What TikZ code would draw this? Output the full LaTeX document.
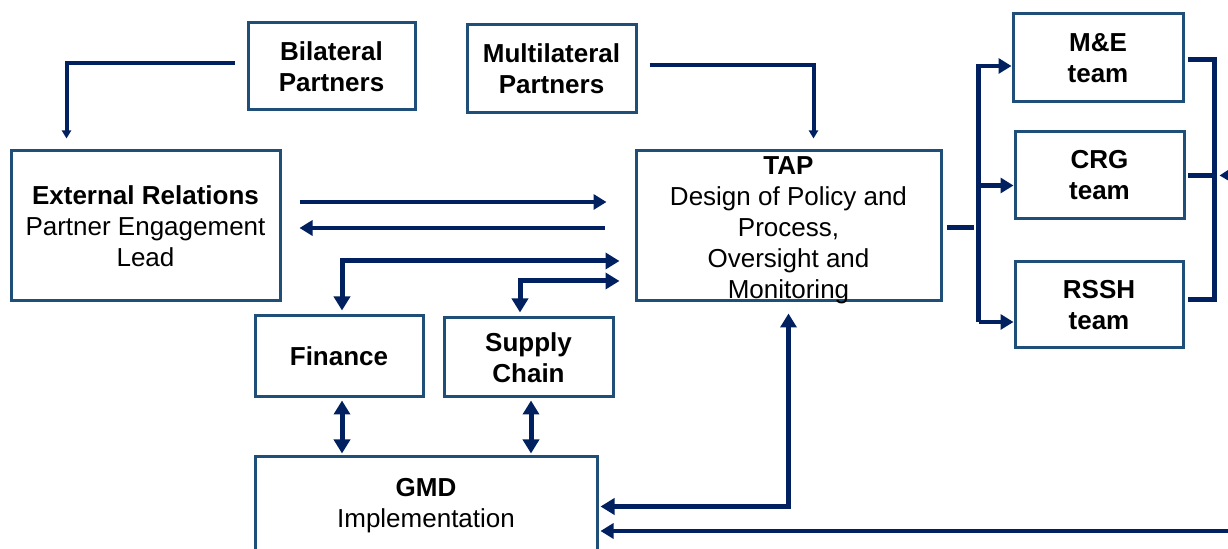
\documentclass[tikz,border=0pt]{standalone}
\usepackage{fontspec}
\setmainfont{Liberation Sans}
\usepackage{tikz}
\usetikzlibrary{arrows.meta,calc,positioning}
\definecolor{boxblue}{RGB}{31,78,121}
\definecolor{navy}{RGB}{0,32,96}

\begin{document}
\begin{tikzpicture}[x=0.5pt, y=-0.5pt, line join=miter,
  box/.style={rectangle, draw=boxblue, line width=1.5pt, inner sep=0pt, align=center,
    font=\fontsize{13}{15.5}\selectfont},
  txt/.style={align=center, inner sep=0pt, font=\fontsize{13}{15.5}\selectfont},
  flow/.style={draw=navy, line width=2.25pt, -{Triangle[length=6.5pt,width=7.5pt]}},
  both/.style={draw=navy, line width=2.5pt, {Triangle[length=7pt,width=8pt]}-{Triangle[length=7pt,width=8pt]}},
  thin/.style={draw=navy, line width=2pt, -{Triangle[length=4pt,width=4.5pt]}},
  bar/.style={draw=navy, line width=2.5pt}]
\clip (0,0) rectangle (1228,549);
\node[box, minimum width=83.5pt, minimum height=43.5pt] (bilat) at (331.5,66.5) {\textbf{Bilateral}\\\textbf{Partners}};
\node[box, minimum width=84.5pt, minimum height=44pt] (multi) at (551.5,69) {\textbf{Multilateral}\\\textbf{Partners}};
\node[box, minimum width=134.5pt, minimum height=75pt] (extrel) at (145.5,226) {\textbf{External Relations}\\Partner Engagement\\Lead};
\node[box, minimum width=152.5pt, minimum height=75pt] (tap) at (788.5,226) {};
\node[txt] (taptext) at (788.5,230) {\textbf{TAP}\\Design of Policy and\\Process,\\Oversight and\\Monitoring};
\node[box, minimum width=85pt, minimum height=44pt] (me) at (1098,58) {\textbf{M\&E}\\\textbf{team}};
\node[box, minimum width=84.5pt, minimum height=43.5pt] (crg) at (1099.5,175.5) {\textbf{CRG}\\\textbf{team}};
\node[box, minimum width=84pt, minimum height=43pt] (rssh) at (1099,305) {\textbf{RSSH}\\\textbf{team}};
\node[box, minimum width=84pt, minimum height=40.5pt] (fin) at (339,356.5) {\textbf{Finance}};
\node[box, minimum width=84.5pt, minimum height=39.5pt] (supply) at (528.5,357.5) {\textbf{Supply}\\\textbf{Chain}};
\node[box, minimum width=171pt, minimum height=66.5pt] (gmd) at (426,523.5) {};
\node[txt] (gmdtext) at (426,506) {\textbf{GMD}\\Implementation};
\coordinate (offgmd) at (1240,531);
\coordinate (offcrg) at (1240,175);

\draw[thin] ($(bilat.west)+(-12,-3.5)$) -| ($(extrel.north west)+(57,-11)$);
\draw[thin] ($(multi.east)+(12,-4)$) -| ($(tap.north west)+(179,-11)$);
\draw[flow] ($(extrel.east)+(18,-24)$) -- ($(tap.west)+(-28,-24)$);
\draw[flow] ($(tap.west)+(-30,2)$) -- ($(extrel.east)+(18,2)$);
\draw[both] ($(fin.north)+(3,-4)$) |- ($(tap.west)+(-15,35)$);
\draw[both] ($(supply.north)+(-8.5,-4)$) |- ($(tap.west)+(-15,55)$);
\draw[both] ($(fin.south)+(3,2)$) -- ($(fin.south |- gmd.north)+(3,-2)$);
\draw[both] ($(supply.south)+(2.5,2)$) -- ($(supply.south |- gmd.north)+(2.5,-2)$);
\draw[both] ($(gmd.east)+(2,-17)$) -| ($(tap.south)+(0,11)$);
\draw[flow] (offgmd) -- ($(gmd.east)+(2,7.5)$);
\draw[bar] ($(tap.east)+(4,2)$) -- ($(tap.east)+(31,2)$);
\draw[flow] ($(rssh.west)+(-35,17)$) |- ($(me.west)+(0,8)$);
\draw[flow] ($(rssh.west)+(-35,17)$) -- ($(rssh.west)+(0,17)$);
\draw[flow] ($(crg.west)+(-35,10)$) -- ($(crg.west)+(0,10)$);
\draw[bar] ($(me.east)+(3,2)$) -| ($(rssh.east)+(30,-5)$) -- ($(rssh.east)+(3,-5)$);
\draw[bar] ($(crg.east)+(2,0)$) -- ($(crg.east)+(30,0)$);
\draw[flow] (offcrg) -- ($(crg.east)+(34,0)$);
\end{tikzpicture}
\end{document}
